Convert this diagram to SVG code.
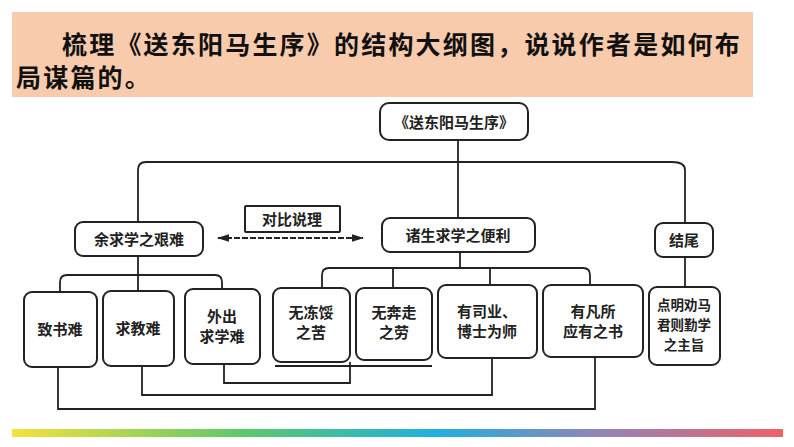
<svg xmlns="http://www.w3.org/2000/svg" width="794" height="447" viewBox="0 0 794 447">
<style>
.h{font-family:"Noto Sans CJK SC","Noto Sans CJK JP",sans-serif;font-size:25px;letter-spacing:2.2px;font-weight:bold;fill:#111}
.t{font-family:"Noto Sans CJK SC","Noto Sans CJK JP",sans-serif;font-size:15px;font-weight:bold;fill:#222;text-anchor:middle}
.s{font-size:13.5px}
.b{fill:#fff;stroke:#222;stroke-width:2}
.c{fill:none;stroke:#222;stroke-width:1.8}
</style>
<defs>
<linearGradient id="g" x1="0" x2="1">
<stop offset="0" stop-color="#f5e23c"/><stop offset="0.3" stop-color="#5cc86a"/><stop offset="0.55" stop-color="#1fb0e0"/><stop offset="0.75" stop-color="#8c86b8"/><stop offset="1" stop-color="#f0606a"/>
</linearGradient>
<marker id="a" viewBox="0 0 10 10" refX="9" refY="5" markerWidth="7" markerHeight="7" orient="auto-start-reverse"><path d="M0,2L10,5L0,8z" fill="#222"/></marker>
</defs>
<rect width="794" height="447" fill="#fff"/>
<g id="header">
<rect x="12" y="12" width="741" height="85" fill="#f8cbad"/>
<text class="h" x="62" y="54">梳理《送东阳马生序》的结构大纲图，说说作者是如何布</text>
<text class="h" x="16" y="87">局谋篇的。</text>
</g>
<g id="connectors">
<path class="c" d="M458,140V218"/>
<path class="c" d="M138,222V170Q138,162 146,162H672Q685,162 685,170V223"/>
<path class="c" d="M138,256V291M60,292V282Q60,275 67,275H215Q222,275 222,282V289"/>
<path class="c" d="M460,252V268M322,288V275Q322,268 329,268H583Q590,268 590,275V285M393,288V268M490,285V268"/>
<path class="c" d="M685,257V287"/>
<path class="c" d="M275,366H432"/>
<path class="c" d="M224,364V383H350V362"/>
<path class="c" d="M142,366V395H492V358"/>
<path class="c" d="M58,367V409H595V357"/>
<path class="c" d="M218,238H363" marker-start="url(#a)" marker-end="url(#a)" stroke-dasharray="6 2"/>
</g>
<g id="root"><rect class="b" x="380" y="103" width="148" height="37" rx="9"/><text class="t" x="454" y="128">《送东阳马生序》</text></g>
<g id="n1"><rect class="b" x="75" y="222" width="128" height="34" rx="8"/><text class="t" x="139" y="245">余求学之艰难</text></g>
<g id="lbl"><rect class="b" x="245" y="206" width="95" height="26" rx="1"/><text class="t" x="292" y="225">对比说理</text></g>
<g id="n2"><rect class="b" x="382" y="218" width="153" height="34" rx="8"/><text class="t" x="458" y="241">诸生求学之便利</text></g>
<g id="n3"><rect class="b" x="655" y="223" width="58" height="34" rx="8"/><text class="t" x="684" y="246">结尾</text></g>
<g id="b1"><rect class="b" x="24" y="292" width="73" height="75" rx="8"/><text class="t" x="60" y="335">致书难</text></g>
<g id="b2"><rect class="b" x="103" y="291" width="71" height="75" rx="8"/><text class="t" x="138" y="334">求教难</text></g>
<g id="b3"><rect class="b" x="185" y="289" width="75" height="75" rx="8"/><text class="t" x="222" y="322">外出</text><text class="t" x="222" y="342">求学难</text></g>
<g id="b4"><rect class="b" x="273" y="288" width="77" height="74" rx="8"/><text class="t" x="311" y="318">无冻馁</text><text class="t" x="311" y="338">之苦</text></g>
<g id="b5"><rect class="b" x="356" y="288" width="76" height="72" rx="8"/><text class="t" x="394" y="318">无奔走</text><text class="t" x="394" y="338">之劳</text></g>
<g id="b6"><rect class="b" x="438" y="285" width="99" height="73" rx="8"/><text class="t" x="487" y="317">有司业、</text><text class="t" x="487" y="337">博士为师</text></g>
<g id="b7"><rect class="b" x="543" y="285" width="100" height="72" rx="8"/><text class="t" x="593" y="317">有凡所</text><text class="t" x="593" y="337">应有之书</text></g>
<g id="b8"><rect class="b" x="649" y="287" width="71" height="78" rx="8"/><text class="t s" x="684" y="310">点明劝马</text><text class="t s" x="684" y="330">君则勤学</text><text class="t s" x="684" y="350">之主旨</text></g>
<rect x="12" y="429" width="771" height="8" fill="url(#g)"/>
</svg>
